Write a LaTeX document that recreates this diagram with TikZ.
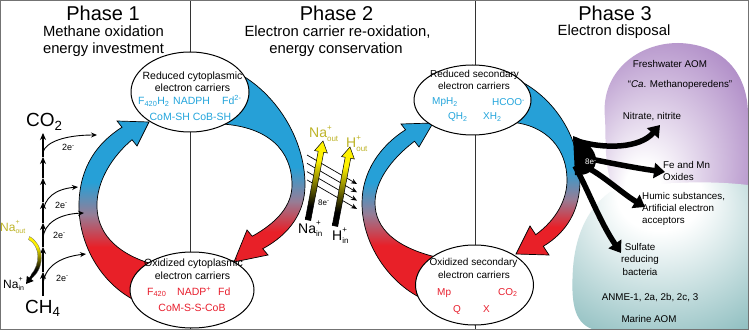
\documentclass[tikz,border=0pt]{standalone}
\usepackage{fontspec}
\setmainfont{Liberation Sans}
\usetikzlibrary{shapes.geometric,arrows.meta}
\definecolor{cblue}{RGB}{35,165,220}
\definecolor{cred}{RGB}{232,30,45}
\definecolor{ablue}{RGB}{38,160,215}
\definecolor{ared}{RGB}{232,32,40}
\definecolor{amid}{RGB}{150,125,150}
\definecolor{olv}{RGB}{190,180,40}
\definecolor{ylw}{RGB}{255,242,0}
\definecolor{pur}{RGB}{160,118,188}
\definecolor{tea}{RGB}{118,176,178}
\pgfdeclareverticalshading{arcL}{100bp}{color(0bp)=(ared); color(40bp)=(ared); color(49bp)=(amid); color(58bp)=(ablue); color(100bp)=(ablue)}
\pgfdeclareverticalshading{arcR}{100bp}{color(0bp)=(ared); color(33bp)=(ared); color(41bp)=(amid); color(50bp)=(ablue); color(100bp)=(ablue)}
\pgfdeclareverticalshading{barsh}{100bp}{color(0bp)=(black); color(34bp)=(black); color(47bp)=(ylw!45!black); color(63bp)=(ylw); color(100bp)=(ylw)}
\pgfdeclareradialshading{pursh}{\pgfpoint{-12bp}{-16bp}}{color(0bp)=(white); color(6bp)=(white); color(40bp)=(pur); color(50bp)=(pur)}
\pgfdeclareradialshading{teash}{\pgfpoint{0bp}{25bp}}{color(0bp)=(white); color(12bp)=(white); color(48bp)=(tea); color(60bp)=(tea)}
\newcommand\ssb[3]{\rlap{\raisebox{0.52em}{\fontsize{#3}{#3}\selectfont #1}}\raisebox{-0.22em}{\fontsize{#3}{#3}\selectfont #2}}
\begin{document}
\begin{tikzpicture}[x=1pt,y=-1pt,
 ttl/.style={font=\fontsize{20}{24}\selectfont, anchor=base, inner sep=0},
 subt/.style={font=\fontsize{14.8}{17}\selectfont, anchor=base, inner sep=0},
 ebig/.style={font=\fontsize{10.5}{12}\selectfont, anchor=base, inner sep=0},
 esm/.style={font=\fontsize{10}{12}\selectfont, anchor=base, inner sep=0},
 lbl/.style={font=\fontsize{9.8}{11.5}\selectfont, anchor=base, inner sep=0},
 ell/.style={ellipse, draw=black, fill=white, line width=1pt, inner sep=0},
 arcline/.style={draw=black, line width=0.7pt},
 chainarr/.style={line width=1.1pt, -{Stealth[length=7pt,width=6pt]}},
 earr/.style={line width=0.9pt, -{Stealth[length=6pt,width=5pt]}},
 fat/.style={line width=5.5pt, -{Triangle[length=11pt,width=15pt]}},
 ion/.style={font=\fontsize{14}{16}\selectfont, anchor=base west, inner sep=0},
 ionsm/.style={font=\fontsize{12}{14}\selectfont, anchor=base west, inner sep=0},
 mol/.style={font=\fontsize{19}{22}\selectfont, anchor=base west, inner sep=0},
 twoe/.style={font=\fontsize{9}{10}\selectfont, anchor=base west, inner sep=0},
]
\useasboundingbox (0,0) rectangle (749,331);
\fill[white] (0,0) rectangle (749,331);

% dividers
\draw[black!80, line width=0.8pt] (190,0) -- (190,329);
\draw[black!80, line width=0.8pt] (475,0) -- (475,329);

% phase 3 blobs
\shade[shading=pursh] (605,118) .. controls (600,72) and (638,43) .. (678,43) .. controls (722,44) and (748,72) .. (748,115) -- (748,220) .. controls (700,228) and (640,222) .. (612,185) .. controls (604,165) and (606,135) .. (605,118) -- cycle;
\shade[shading=teash] (610,192) .. controls (585,210) and (575,240) .. (573,268) .. controls (571,300) and (573,322) .. (592,329) -- (748,329) -- (748,185) .. controls (705,180) and (650,182) .. (610,192) -- cycle;

% big arcs
\path[arcline, shading=arcL] (122,127.25) -- (117,121) -- (149,122) -- (137,146) -- (132,139.75) .. controls (106,162) and (96,188) .. (97,208) .. controls (98,230) and (112,252) .. (152,264) -- (175,285) -- (136,301) .. controls (100,283) and (78,243) .. (79,203) .. controls (80,167) and (97,143) .. (122,127.25) -- cycle;
\path[arcline, shading=arcR] (236,72) .. controls (275,92) and (305,138) .. (305,185) .. controls (305,212) and (290,234) .. (262.75,248.75) -- (268,255) -- (234,262) -- (247,230) -- (252.25,236.25) .. controls (278,222) and (292,205) .. (292,185) .. controls (292,150) and (268,127) .. (222,124) -- (210,100) -- cycle;
\path[arcline, shading=arcL] (405.5,129.75) -- (401,124) -- (433,123) -- (419,147) -- (414.5,141.25) .. controls (390,160) and (375,182) .. (375,203) .. controls (375,228) and (395,248) .. (440,258) -- (455,275) -- (421,298) .. controls (390,283) and (362,245) .. (362,203) .. controls (362,172) and (380,146) .. (405.5,129.75) -- cycle;
\path[arcline, shading=arcR] (518,80) .. controls (555,98) and (580,138) .. (580,180) .. controls (580,210) and (567,232) .. (543.3,246.3) -- (549,255) -- (516,254) -- (530,226) -- (535.7,234.7) .. controls (556,220) and (567,200) .. (567,180) .. controls (567,150) and (548,125) .. (510,122) -- (495,105) -- cycle;

% phase 3 fan
\fill[black] (573,136) .. controls (586,140) and (596,150) .. (596,160) .. controls (596,170) and (588,176) .. (575,175) -- cycle;
\draw[fat] (574,140) .. controls (605,150) and (640,148) .. (660,125);
\draw[fat] (576,156) .. controls (605,162) and (635,168) .. (665,172);
\draw[fat] (578,163) .. controls (600,172) and (620,192) .. (645,207);
\draw[fat] (575,166) .. controls (588,190) and (600,222) .. (621,253);
\node[font=\fontsize{8}{9}\selectfont, text=white, anchor=base west, inner sep=0] (e8b) at (585,165) {8e\textsuperscript{-}};

% ellipses
\node[ell, minimum width=118pt, minimum height=80pt] (e1) at (190,92) {};
\node[ell, minimum width=124pt, minimum height=76pt] (e2) at (192,290) {};
\node[ell, minimum width=117pt, minimum height=70pt] (e3) at (472.5,100) {};
\node[ell, minimum width=118pt, minimum height=80pt] (e4) at (474.5,285) {};

% ellipse 1 text
\node[ebig] (e1a) at (192.5,80) {Reduced cytoplasmic};
\node[ebig] (e1b) at (192.5,92) {electron carriers};
\node[ebig, text=cblue, anchor=base west] (e1c) at (138,104.5) {F\textsubscript{420}H\textsubscript{2}};
\node[ebig, text=cblue, anchor=base west] (e1d) at (173,104.5) {NADPH};
\node[ebig, text=cblue, anchor=base west] (e1e) at (222,104.5) {Fd\textsuperscript{2-}};
\node[ebig, text=cblue] (e1f) at (190.5,121) {CoM-SH CoB-SH};
% ellipse 2 text
\node[ebig] (e2a) at (193.5,266) {Oxidized cytoplasmic};
\node[ebig] (e2b) at (192.5,279) {electron carriers};
\node[ebig, text=cred, anchor=base west] (e2c) at (147,295) {F\textsubscript{420}};
\node[ebig, text=cred, anchor=base west] (e2d) at (177,295) {NADP\textsuperscript{+}};
\node[ebig, text=cred, anchor=base west] (e2e) at (218,295) {Fd};
\node[ebig, text=cred] (e2f) at (192,311) {CoM-S-S-CoB};
% ellipse 3 text
\node[esm] (e3a) at (474.5,77.5) {Reduced secondary};
\node[esm] (e3b) at (474,90) {electron carriers};
\node[esm, text=cblue, anchor=base west] (e3c) at (432,105) {MpH\textsubscript{2}};
\node[esm, text=cblue, anchor=base west] (e3d) at (492,106) {HCOO\textsuperscript{-}};
\node[esm, text=cblue, anchor=base west] (e3e) at (448,120) {QH\textsubscript{2}};
\node[esm, text=cblue, anchor=base west] (e3f) at (483,120) {XH\textsubscript{2}};
% ellipse 4 text
\node[esm] (e4a) at (473.5,265) {Oxidized secondary};
\node[esm] (e4b) at (474,278) {electron carriers};
\node[esm, text=cred, anchor=base west] (e4c) at (437,295) {Mp};
\node[esm, text=cred, anchor=base west] (e4d) at (498,295) {CO\textsubscript{2}};
\node[esm, text=cred, anchor=base west] (e4e) at (453,312) {Q};
\node[esm, text=cred, anchor=base west] (e4f) at (483,312) {X};

% phase 1 chain
\node[mol] (co2) at (26,127) {CO\textsubscript{2}};
\node[mol] (ch4) at (25,313) {CH\textsubscript{4}};
\foreach \a/\b in {296/272,272/247,247/223,223/202,202/178,178/157,157/133}
  \draw[chainarr] (43,\a) -- (43,\b);
\draw[earr] (43,285) .. controls (44,268) and (58,257) .. (86,254);
\draw[earr] (43,238) .. controls (44,224) and (58,214) .. (84,213);
\draw[earr] (43,213) .. controls (44,198) and (55,189) .. (78,187);
\draw[earr] (43,152) .. controls (46,142) and (65,135) .. (97,135);
\node[twoe] (l1) at (56,281) {2e\textsuperscript{-}};
\node[twoe] (l2) at (53,238) {2e\textsuperscript{-}};
\node[twoe] (l3) at (55,208) {2e\textsuperscript{-}};
\node[twoe] (l4) at (62,151) {2e\textsuperscript{-}};
% Na pump phase 1
\shade[shading=barsh, draw=black!60, line width=0.3pt] (29.5,236.5) .. controls (43.5,244) and (45.5,266) .. (33,277.2) -- (31,274.8) .. controls (40.5,264) and (40.5,246) .. (28.5,239.5) -- cycle;
\draw[line width=2.6pt, -{Triangle[length=7pt,width=8pt]}] (32.5,275.5) -- (26,284);
\node[ionsm, text=olv] (nao1) at (0,231) {Na\ssb{+}{out}{7}};
\node[ionsm] (nai1) at (3,288) {Na\ssb{+}{in}{7}};

% phase 2 pumps
\foreach \k in {0,1,2,3}
  \draw[line width=0.7pt, -{Stealth[length=6pt,width=5pt]}] (307,155+8.3*\k) -- (357,184+8.3*\k);
\shade[shading=barsh, draw=black, line width=0.5pt] (305.25,219.48) -- (318.2,151.29) -- (314.56,150.6) -- (323,141) -- (327.34,153.02) -- (323.7,152.33) -- (310.75,220.52) -- cycle;
\shade[shading=barsh, draw=black, line width=0.5pt] (332.25,225.48) -- (345.2,157.29) -- (341.56,156.6) -- (350,147) -- (354.34,159.02) -- (350.7,158.33) -- (337.75,226.52) -- cycle;
\node[ion, text=olv] (nao2) at (309,138) {Na\ssb{+}{out}{8}};
\node[ion, text=olv] (ho2) at (346,148) {H\ssb{+}{out}{8}};
\node[ion] (nai2) at (298,233) {Na\ssb{+}{in}{8}};
\node[ion] (hi2) at (332,240) {H\ssb{+}{in}{8}};
\node[font=\fontsize{8}{9}\selectfont, anchor=base west, inner sep=0] (e8a) at (318,205) {8e\textsuperscript{-}};

% titles
\node[ttl] (t1) at (103,21) {Phase 1};
\node[subt] (s1a) at (103.5,37) {Methane oxidation};
\node[subt] (s1b) at (103.5,54) {energy investment};
\node[ttl] (t2) at (336.5,21) {Phase 2};
\node[subt] (s2a) at (337.5,37) {Electron carrier re-oxidation,};
\node[subt] (s2b) at (336,54) {energy conservation};
\node[ttl] (t3) at (615,21) {Phase 3};
\node[subt] (s3a) at (614,36) {Electron disposal};

% phase 3 labels
\node[lbl] (p1) at (670,68) {Freshwater AOM};
\node[lbl] (p2) at (680,88) {``\textit{Ca}. Methanoperedens''};
\node[lbl] (p3) at (652,120) {Nitrate, nitrite};
\node[lbl, anchor=base west] (p4) at (663,169) {Fe and Mn};
\node[lbl, anchor=base west] (p5) at (663,181) {Oxides};
\node[lbl, anchor=base west] (p6) at (642,200) {Humic substances,};
\node[lbl, anchor=base west] (p7) at (642,211.5) {Artificial electron};
\node[lbl, anchor=base west] (p8) at (642,223) {acceptors};
\node[lbl] (p9) at (640,250) {Sulfate};
\node[lbl] (p10) at (640,262.5) {reducing};
\node[lbl] (p11) at (640,275) {bacteria};
\node[lbl] (p12) at (650,300) {ANME-1, 2a, 2b, 2c, 3};
\node[lbl] (p13) at (649,322) {Marine AOM};

% frame
\draw[black!55, line width=0.8pt] (0.4,0.4) rectangle (748.6,329);
\end{tikzpicture}
\end{document}
